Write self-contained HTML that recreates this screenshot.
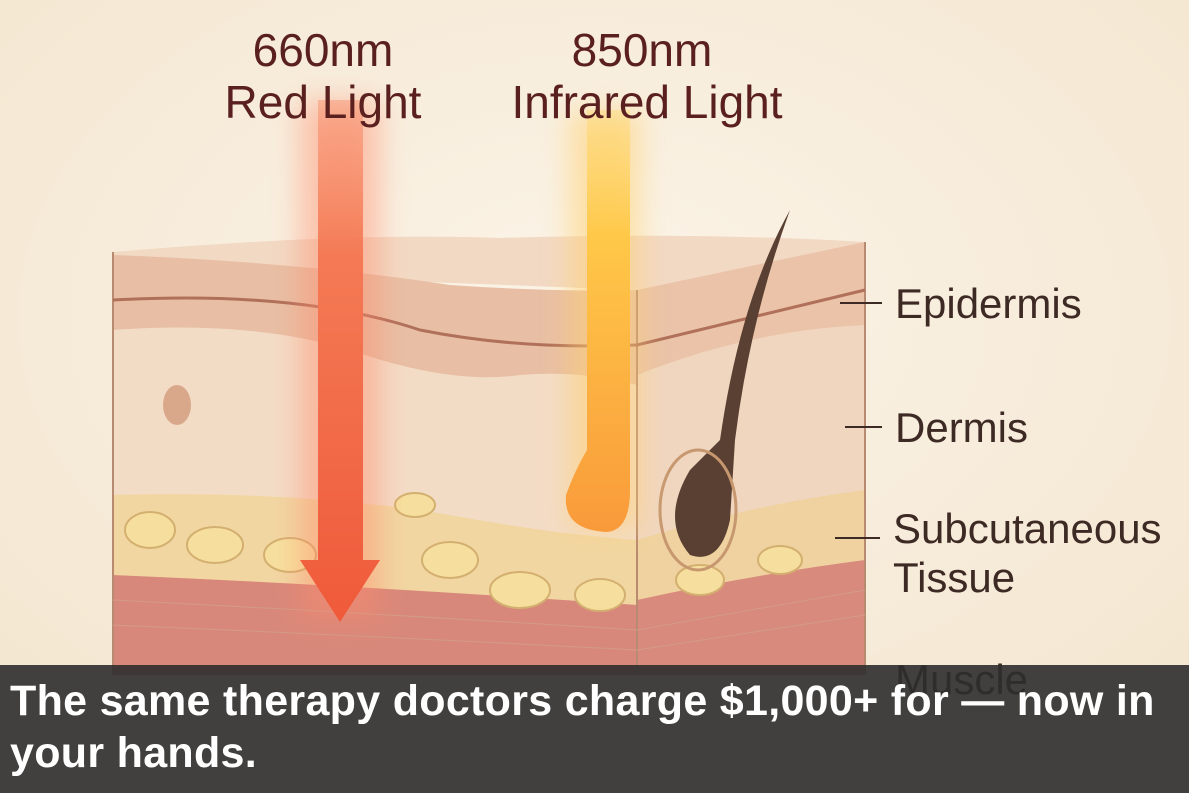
<!DOCTYPE html>
<html><head><meta charset="utf-8">
<style>
html,body{margin:0;padding:0}
body{width:1189px;height:793px;overflow:hidden;background:#f8f0e2;position:relative;font-family:"Liberation Sans",sans-serif}
svg{position:absolute;left:0;top:0}
.cap{position:absolute;left:0;top:665px;width:1189px;height:128px;background:rgba(45,45,45,0.9);color:#fff;font-weight:bold;font-size:43px;line-height:52px;padding:10px 0 0 10px;box-sizing:border-box;letter-spacing:0.3px;white-space:nowrap}
</style></head><body>
<svg width="1189" height="793" viewBox="0 0 1189 793">
<defs>
<radialGradient id="bg" cx="0.5" cy="0.4" r="0.7"><stop offset="0" stop-color="#fbf4e8"/><stop offset="1" stop-color="#f4e6d0"/></radialGradient>
<linearGradient id="ir" x1="0" y1="0" x2="0" y2="1"><stop offset="0" stop-color="#ffd45a" stop-opacity="0.3"/><stop offset="0.3" stop-color="#ffc848"/><stop offset="1" stop-color="#f99a3a"/></linearGradient>
<linearGradient id="rd" x1="0" y1="0" x2="0" y2="1"><stop offset="0" stop-color="#f7845e" stop-opacity="0.4"/><stop offset="0.3" stop-color="#f47a55"/><stop offset="1" stop-color="#ef5a3a"/></linearGradient>
<filter id="glow" x="-100%" y="-20%" width="300%" height="140%"><feGaussianBlur stdDeviation="14"/></filter>
</defs>
<rect width="1189" height="793" fill="url(#bg)"/>
<path d="M113,252 Q350,232 500,238 Q700,232 865,242 L865,262 L637,290 L113,270Z" fill="#f2d9c4"/>
<path d="M113,255 Q300,262 450,285 Q550,292 637,290 L637,675 L113,675Z" fill="#e8bfa4"/>
<path d="M113,330 Q250,320 350,350 Q450,385 520,375 Q580,370 637,385 L637,675 L113,675Z" fill="#f3dcc6"/>
<path d="M113,495 Q300,490 450,515 Q560,535 637,540 L637,675 L113,675Z" fill="#f1d6a2"/>
<path d="M113,575 Q350,585 637,605 L637,675 L113,675Z" fill="#d8887a"/>
<path d="M637,290 L865,242 L865,675 L637,675Z" fill="#eac3a8"/>
<path d="M637,375 Q750,330 865,325 L865,675 L637,675Z" fill="#f0d6bf"/>
<path d="M637,540 Q750,505 865,490 L865,675 L637,675Z" fill="#efd2a0"/>
<path d="M637,600 Q750,575 865,560 L865,675 L637,675Z" fill="#d88a7c"/>
<line x1="637" y1="290" x2="637" y2="675" stroke="#b88a70" stroke-width="2"/>
<path d="M113,252 L113,675" stroke="#b88a70" stroke-width="2"/>
<path d="M865,242 L865,675" stroke="#b88a70" stroke-width="2"/>
<path d="M113,300 Q300,290 420,330 Q520,350 637,345 L865,290" stroke="#b0705a" stroke-width="3" fill="none"/>
<g fill="#f6df9e" stroke="#d4b070" stroke-width="2">
<ellipse cx="150" cy="530" rx="25" ry="18"/><ellipse cx="215" cy="545" rx="28" ry="18"/><ellipse cx="290" cy="555" rx="26" ry="17"/><ellipse cx="450" cy="560" rx="28" ry="18"/><ellipse cx="520" cy="590" rx="30" ry="18"/><ellipse cx="600" cy="595" rx="25" ry="16"/><ellipse cx="415" cy="505" rx="20" ry="12"/><ellipse cx="700" cy="580" rx="24" ry="15"/><ellipse cx="780" cy="560" rx="22" ry="14"/>
</g>
<ellipse cx="177" cy="405" rx="14" ry="20" fill="#d9a88a"/>
<g stroke="#d29b88" stroke-width="1" fill="none">
<path d="M113,600 Q350,612 637,630"/><path d="M113,625 Q350,635 637,650"/><path d="M637,630 L865,590"/><path d="M637,650 L865,615"/>
</g>
<path d="M790,210 Q740,300 720,440 L690,470 Q660,520 690,555 Q720,565 730,520 L735,440 Q750,320 790,210Z" fill="#5a4032"/>
<ellipse cx="698" cy="510" rx="38" ry="60" fill="none" stroke="#c79870" stroke-width="3"/>
<rect x="300" y="100" width="80" height="520" fill="#ff8a6a" opacity="0.45" filter="url(#glow)"/>
<rect x="570" y="110" width="70" height="420" fill="#ffd070" opacity="0.55" filter="url(#glow)"/>
<path d="M318,100 L363,100 L363,560 L380,560 L340,622 L300,560 L318,560Z" fill="url(#rd)"/>
<path d="M587,110 L630,110 L630,490 Q630,530 607,532 Q563,530 566,495 Q575,470 587,450Z" fill="url(#ir)"/>
<g font-family="Liberation Sans, sans-serif" fill="#5a1f1f" font-size="46" text-anchor="middle">
<text x="323" y="66">660nm</text><text x="323" y="118">Red Light</text>
<text x="642" y="66">850nm</text><text x="647" y="118">Infrared Light</text>
</g>
<g font-family="Liberation Sans, sans-serif" fill="#3d2a24" font-size="42">
<text x="895" y="318">Epidermis</text><text x="895" y="442">Dermis</text>
<text x="893" y="543">Subcutaneous</text><text x="893" y="592">Tissue</text><text x="895" y="694">Muscle</text>
</g>
<g stroke="#3d2a24" stroke-width="2">
<line x1="840" y1="303" x2="882" y2="303"/><line x1="845" y1="427" x2="882" y2="427"/><line x1="835" y1="538" x2="880" y2="538"/>
</g>
</svg>
<div class="cap">The same therapy doctors charge $1,000+ for — now in<br>your hands.</div>
</body></html>
